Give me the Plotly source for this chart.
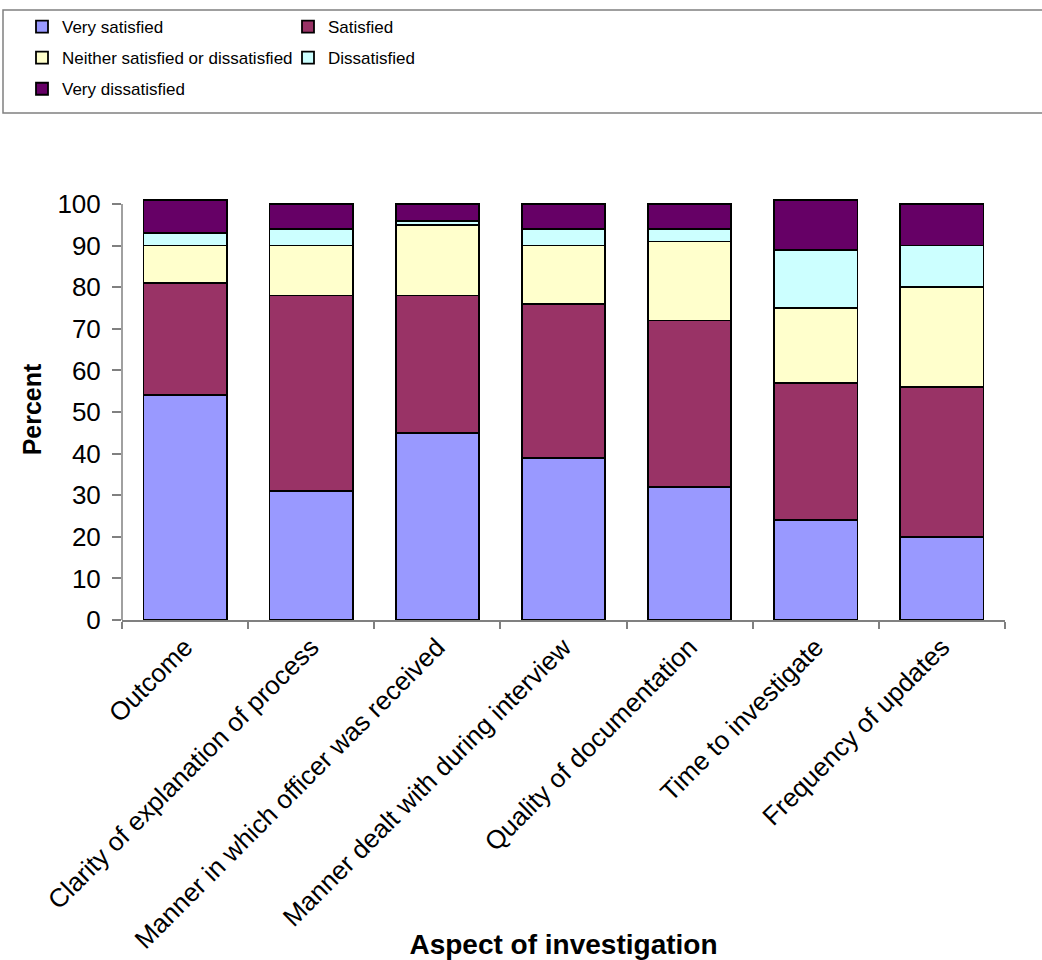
import plotly.graph_objects as go

categories = [
    "Outcome",
    "Clarity of explanation of process",
    "Manner in which officer was received",
    "Manner dealt with during interview",
    "Quality of documentation",
    "Time to investigate",
    "Frequency of updates",
]

very_satisfied = [54, 31, 45, 39, 32, 24, 20]
satisfied = [27, 47, 33, 37, 40, 33, 36]
neither = [9, 12, 17, 14, 19, 18, 24]
dissatisfied = [3, 4, 1, 4, 3, 14, 10]
very_dissatisfied = [8, 6, 4, 6, 6, 12, 10]

y_ticks = [0, 10, 20, 30, 40, 50, 60, 70, 80, 90, 100]

series = [
    ("Very satisfied", very_satisfied, "#9999FF", "legend"),
    ("Satisfied", satisfied, "#993366", "legend2"),
    ("Neither satisfied or dissatisfied", neither, "#FFFFCC", "legend"),
    ("Dissatisfied", dissatisfied, "#CCFFFF", "legend2"),
    ("Very dissatisfied", very_dissatisfied, "#660066", "legend"),
]

fig = go.Figure()
for name, vals, color, leg in series:
    fig.add_trace(go.Bar(
        x=categories, y=vals, name=name, legend=leg, legendgroup=name,
        marker=dict(color=color, line=dict(color="#000000", width=1.8)),
    ))

Y_TOP = 101.2  # a little headroom so stacks summing past 100 are not cut off
W, H = 1042, 960
L, R, B = 122, 37, 340
px_per_unit = 4.16
T = round(H - B - Y_TOP * px_per_unit)
pw, ph = W - L - R, H - T - B

def px_x(p):
    return (p - L) / pw

def px_y(p):
    return (H - B - p) / ph

legend_font = dict(family="Liberation Sans, Arial, sans-serif", size=17, color="#000000")

fig.update_layout(
    width=W, height=H,
    margin=dict(l=L, r=R, t=T, b=B, autoexpand=False),
    paper_bgcolor="#FFFFFF", plot_bgcolor="#FFFFFF",
    barmode="stack", bargap=0.34,
    font=dict(family="Liberation Sans, Arial, sans-serif", color="#000000"),
    legend=dict(
        x=px_x(22), y=px_y(9), xanchor="left", yanchor="top",
        orientation="v", traceorder="grouped", font=legend_font,
        bgcolor="rgba(0,0,0,0)", tracegroupgap=6,
    ),
    legend2=dict(
        x=px_x(288), y=px_y(9), xanchor="left", yanchor="top",
        orientation="v", traceorder="grouped", font=legend_font,
        bgcolor="rgba(0,0,0,0)", tracegroupgap=6,
    ),
    shapes=[
        dict(
            type="rect", xref="paper", yref="paper",
            x0=px_x(3), x1=px_x(1050), y0=px_y(113), y1=px_y(10),
            line=dict(color="#808080", width=1.5), fillcolor="rgba(0,0,0,0)",
        ),
        # value axis line, drawn from 0 to 100 only
        dict(
            type="line", xref="paper", yref="y",
            x0=0, x1=0, y0=0, y1=100,
            line=dict(color="#808080", width=1.5), layer="above",
        ),
    ],
    xaxis=dict(
        tickangle=-45, tickfont=dict(size=26),
        showline=True, linecolor="#808080", linewidth=1.5,
        ticks="outside", tickson="boundaries", ticklen=7, tickcolor="#808080", tickwidth=1.5,
        showgrid=False,
        title=dict(text="<b>Aspect of investigation</b>", font=dict(size=28)),
    ),
    yaxis=dict(
        range=[0, Y_TOP], tickvals=y_ticks, tickfont=dict(size=26),
        showline=False,
        ticks="outside", ticklen=9, tickcolor="#808080", tickwidth=1.5,
        ticklabelstandoff=6,
        showgrid=False, zeroline=False,
        title=dict(text="<b>Percent</b>", font=dict(size=25), standoff=8),
    ),
)

fig.write_html("out.html")
